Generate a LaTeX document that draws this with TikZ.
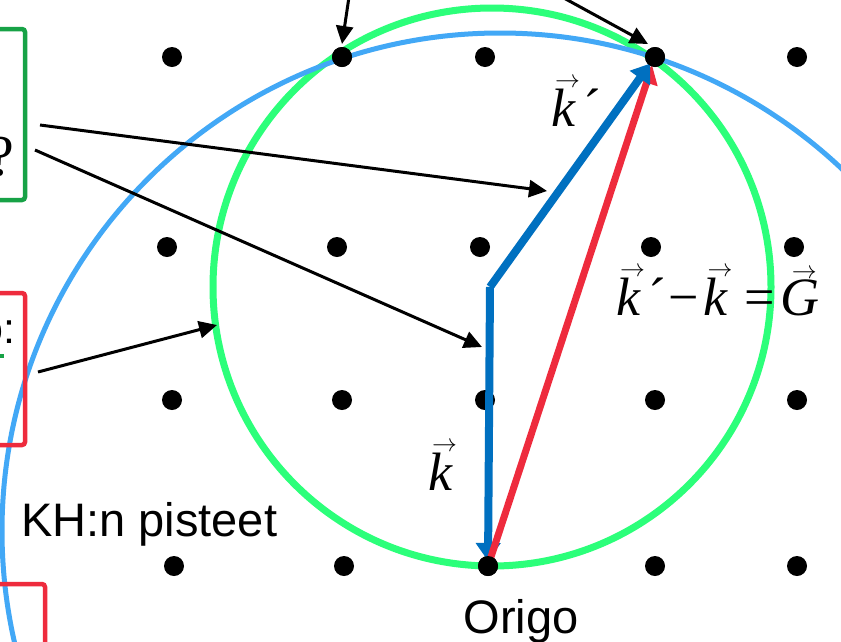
\documentclass[tikz,border=0pt]{standalone}
\usepackage{fontspec}
\setmainfont{Liberation Sans}
\newfontfamily\serif{Liberation Serif}
\usetikzlibrary{arrows.meta}
\definecolor{ewaldgreen}{HTML}{2CFF7A}
\definecolor{khblue}{HTML}{42A8F6}
\definecolor{vecblue}{HTML}{0070C0}
\definecolor{vecred}{HTML}{EE2B3D}
\definecolor{boxgreen}{HTML}{17A246}
\definecolor{boxred}{HTML}{EE2B3D}
\newcommand\vecl[1]{\leavevmode\vbox{\offinterlineskip\halign{\hfil##\hfil\cr\kern8pt{\fontsize{27}{27}\selectfont$\rightarrow$}\cr\noalign{\kern1pt}{\serif\itshape #1}\cr}}}
\tikzset{
  latt/.style={circle,fill=black,minimum size=20pt,inner sep=0pt},
  kvec/.style={draw=vecblue,line width=8pt,-{Triangle[length=18pt,width=24pt]}},
  gvec/.style={draw=vecred,line width=7pt,-{Triangle[length=18pt,width=22pt]}},
  pointer/.style={draw=black,line width=3pt,-{Triangle[length=18pt,width=17pt]}},
  frame/.style={line width=4.5pt,rounded corners=3pt},
  lbl/.style={inner sep=0pt,font=\fontsize{47}{50}\selectfont},
  mathlbl/.style={inner sep=0pt,font=\fontsize{54}{60}\selectfont\serif}
}
\begin{document}
\begin{tikzpicture}[x=1pt,y=-1pt]
\clip (0,0) rectangle (841,641);
\fill[white] (0,0) rectangle (841,641);
% Ewald circle and KH circle
\coordinate (c) at (490,287);
\draw[ewaldgreen,line width=7pt] (492,287) circle[radius=279];
\draw[khblue,line width=5pt] (500,531) circle[radius=498];
% lattice points
\foreach \x [count=\i] in {172,342,485,655,797} \node[latt] (a\i) at (\x,57) {};
\foreach \x [count=\i] in {167,337,480,651,794} \node[latt] (b\i) at (\x,247) {};
\foreach \x [count=\i] in {172,342,485,655,797} \node[latt] (r\i) at (\x,400) {};
\foreach \x [count=\i] in {174,344,488,655,797} \node[latt] (o\i) at (\x,566) {};
% vectors
\draw[kvec,shorten >=5pt] (c) -- (o3.center);
\draw[gvec,shorten >=9pt,shorten <=6pt] (o3.center) -- (a4.center);
\draw[kvec,shorten >=8pt] (c) -- (a4.center);
% redraw dots on top
\foreach \n in {a2,a4,o3} \fill[black] (\n.center) circle[radius=10pt];
% boxes
\draw[boxgreen,frame] (-10,29) rectangle (25,200);
\draw[boxred,frame] (-10,293) rectangle (25,445);
\draw[boxred,frame] (-10,584) rectangle (45,670);
\fill[boxgreen] (0,354) rectangle (4,358);
\node[mathlbl,anchor=base east,font=\fontsize{58}{60}\selectfont\serif] (q) at (14,175) {?};
\node[lbl,anchor=base east,font=\fontsize{43}{50}\selectfont] (oc) at (16,343) {o:};
% pointer arrows
\coordinate (s1) at (40,125);  \coordinate (e1) at (547,191);
\coordinate (s2) at (35,150);  \coordinate (e2) at (482,347);
\coordinate (s3) at (38,372);  \coordinate (e3) at (217,325);
\coordinate (s4) at (349,-3);  \coordinate (e4) at (342,44);
\coordinate (s5) at (562,-3);  \coordinate (e5) at (648,44);
\draw[pointer] (s1) -- (e1);
\draw[pointer] (s2) -- (e2);
\draw[pointer] (s3) -- (e3);
\draw[pointer] (s4) -- (e4);
\draw[pointer] (s5) -- (e5);
% labels
\node[lbl,anchor=base west] (kh) at (21,536) {KH:n pisteet};
\node[lbl,anchor=base] (origo) at (521,633) {Origo};
\node[mathlbl,anchor=base west] (kl) at (424,490) {\vecl{k}};
\node[mathlbl,anchor=base west] (kpl) at (547,126) {\vecl{k}\kern3pt\char"00B4};
\node[mathlbl,anchor=base west] (eq) at (612,315) {\vecl{k}\kern3pt\char"00B4\kern2pt\char"2212\kern1pt\vecl{k}\kern12pt=\kern6pt\vecl{G}};
\end{tikzpicture}
\end{document}
